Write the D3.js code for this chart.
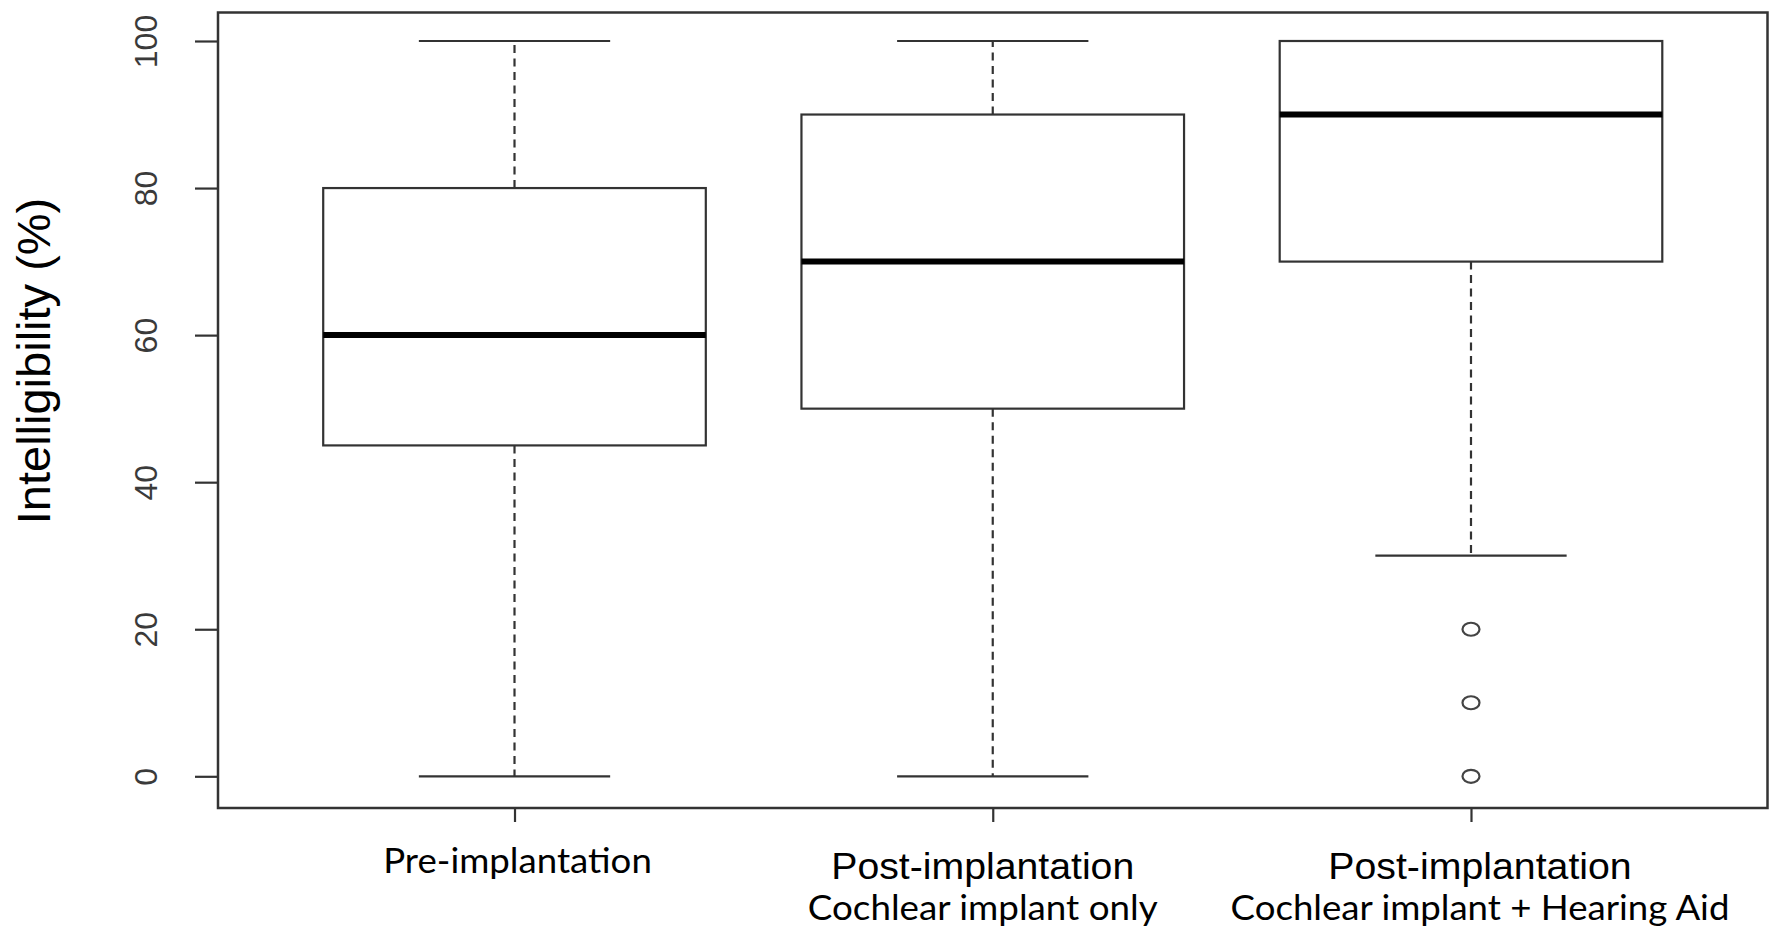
<!DOCTYPE html>
<html>
<head>
<meta charset="utf-8">
<script src="https://cdn.jsdelivr.net/npm/d3@7/dist/d3.min.js"></script>
<style>
  html, body { margin: 0; padding: 0; background: #fff; }
  svg { display: block; }
</style>
</head>
<body>
<svg id="chart" width="1772" height="930"></svg>
<script>
// ---- data ----
const categories = ["Pre-implantation", "Post-implantation", "Post-implantation"];
const subLabels = ["", "Cochlear implant only", "Cochlear implant + Hearing Aid"];
const whiskerLow = [0, 0, 30];
const q1 = [45, 50, 70];
const median = [60, 70, 90];
const q3 = [80, 90, 100];
const whiskerHigh = [100, 100, 100];
const outliers = [[], [], [20, 10, 0]];
const yTicks = [0, 20, 40, 60, 80, 100];
const yTitle = "Intelligibility (%)";

// ---- layout ----
const W = 1772, H = 930;
const plot = { left: 218, right: 1767.5, top: 12.5, bottom: 808 };
const ink = "#333";

const svg = d3.select("#chart");

const keys = categories.map((c, i) => i);
const x = d3.scalePoint().domain(keys).range([plot.left, plot.right]).padding(0.62);
const step = x.step();
const boxW = 0.8 * step, capW = 0.4 * step;

const y = d3.scaleLinear().domain([0, 100]).range([776.3, 41]);

// frame
svg.append("rect")
  .attr("x", plot.left).attr("y", plot.top)
  .attr("width", plot.right - plot.left).attr("height", plot.bottom - plot.top)
  .attr("fill", "none").attr("stroke", ink).attr("stroke-width", 2.5);

// y axis (left)
const yAxis = d3.axisLeft(y).tickValues(yTicks).tickSize(23).tickPadding(0).tickFormat(d3.format("d"));
const gy = svg.append("g").attr("transform", `translate(${plot.left},0)`).call(yAxis);
gy.select(".domain").remove();
gy.selectAll(".tick line").attr("stroke", ink).attr("stroke-width", 2.2);
gy.selectAll(".tick text")
  .attr("x", null).attr("dy", null)
  .attr("transform", "translate(-61,0) rotate(-90)")
  .attr("text-anchor", "middle")
  .attr("y", 0)
  .attr("fill", "#3a3a3a")
  .style("font-family", "'Liberation Sans', Arial, sans-serif")
  .style("font-size", "32px");

// x axis ticks
const xAxis = d3.axisBottom(x).tickSize(14).tickFormat("");
const gx = svg.append("g").attr("transform", `translate(0,${plot.bottom})`).call(xAxis);
gx.select(".domain").remove();
gx.selectAll(".tick line").attr("stroke", ink).attr("stroke-width", 2.2);

// boxes
const groups = svg.append("g").selectAll("g.box").data(keys).join("g").attr("class", "box");

// whiskers (dashed)
groups.append("line")
  .attr("x1", i => x(i)).attr("x2", i => x(i))
  .attr("y1", i => y(q3[i])).attr("y2", i => y(whiskerHigh[i]))
  .attr("stroke", ink).attr("stroke-width", 2.2).attr("stroke-dasharray", "8,5.5");
groups.append("line")
  .attr("x1", i => x(i)).attr("x2", i => x(i))
  .attr("y1", i => y(q1[i])).attr("y2", i => y(whiskerLow[i]))
  .attr("stroke", ink).attr("stroke-width", 2.2).attr("stroke-dasharray", "8,5.5");

// caps
groups.append("line")
  .attr("x1", i => x(i) - capW / 2).attr("x2", i => x(i) + capW / 2)
  .attr("y1", i => y(whiskerHigh[i])).attr("y2", i => y(whiskerHigh[i]))
  .attr("stroke", ink).attr("stroke-width", 2.2);
groups.append("line")
  .attr("x1", i => x(i) - capW / 2).attr("x2", i => x(i) + capW / 2)
  .attr("y1", i => y(whiskerLow[i])).attr("y2", i => y(whiskerLow[i]))
  .attr("stroke", ink).attr("stroke-width", 2.2);

// box
groups.append("rect")
  .attr("x", i => x(i) - boxW / 2).attr("width", boxW)
  .attr("y", i => y(q3[i])).attr("height", i => y(q1[i]) - y(q3[i]))
  .attr("fill", "#fff").attr("stroke", ink).attr("stroke-width", 2.2);

// median
groups.append("line")
  .attr("x1", i => x(i) - boxW / 2).attr("x2", i => x(i) + boxW / 2)
  .attr("y1", i => y(median[i])).attr("y2", i => y(median[i]))
  .attr("stroke", "#000").attr("stroke-width", 6);

// outliers
groups.each(function (i) {
  d3.select(this).selectAll("ellipse").data(outliers[i]).join("ellipse")
    .attr("cx", x(i)).attr("cy", d => y(d))
    .attr("rx", 8.5).attr("ry", 6.5)
    .attr("fill", "none").attr("stroke", "#444").attr("stroke-width", 2.2);
});

// x labels
const labelDx = [3, -10, 9];
const calibriLike = "Lato, 'Open Sans', sans-serif";
const arialLike = "'Liberation Sans', Arial, sans-serif";
const line1Target = [268.7, 303, 303.5];
const line2Target = [0, 350, 499];

function label(cx, baseline, txt, family, size, target) {
  const t = svg.append("text").attr("x", 0).attr("y", 0)
    .attr("text-anchor", "middle").attr("fill", "#000")
    .style("font-family", family).style("font-size", size + "px").text(txt);
  const w = t.node().getComputedTextLength();
  const sx = target / w;
  t.attr("transform", `translate(${cx},${baseline}) scale(${sx.toFixed(4)},1)`);
  return t;
}

keys.forEach(i => {
  const cx = x(i) + labelDx[i];
  if (subLabels[i] === "") {
    label(cx, 873, categories[i], calibriLike, 35, line1Target[i]);
  } else {
    label(cx, 878.5, categories[i], arialLike, 37.5, line1Target[i]);
    label(cx, 920, subLabels[i], calibriLike, 35, line2Target[i]);
  }
});

// y title
svg.append("text")
  .attr("transform", "translate(50,361) rotate(-90)")
  .attr("text-anchor", "middle").attr("fill", "#000")
  .style("font-family", arialLike).style("font-size", "47px")
  .text(yTitle);
</script>
</body>
</html>
